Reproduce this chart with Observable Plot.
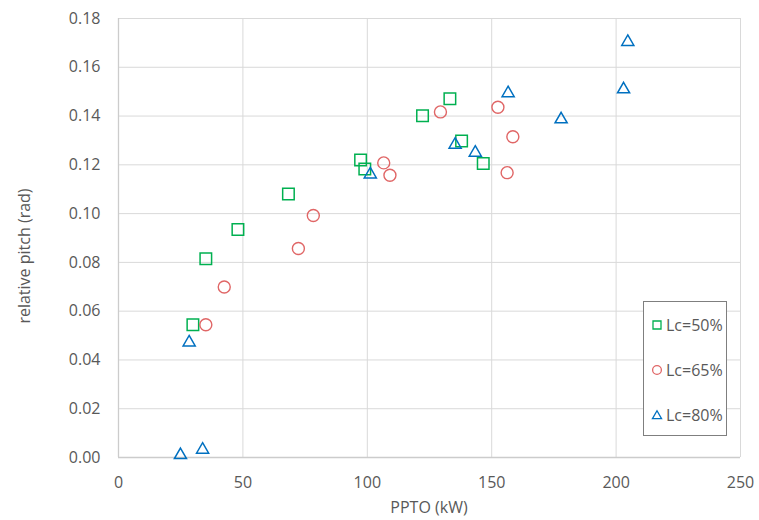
<!DOCTYPE html>
<html>
<head>
<meta charset="utf-8">
<script src="https://cdn.jsdelivr.net/npm/d3@7"></script>
<script src="https://cdn.jsdelivr.net/npm/@observablehq/plot@0.6"></script>
<style>
  html, body { margin: 0; padding: 0; background: #fff; }
  #wrap { position: relative; width: 759px; height: 520px; font-family: "Open Sans", sans-serif; }
  #wrap svg { display: block; }
  .lab { position: absolute; color: #595959; font-size: 16px; white-space: nowrap; line-height: 1; }
  #legend { position: absolute; left: 643px; top: 301px; width: 84px; height: 135px; border: 1px solid #7f7f7f; background: #fff; box-sizing: border-box; }
  .item { position: absolute; left: 7px; height: 20px; display: flex; align-items: center; color: #595959; font-size: 16px; }
  .item svg { margin-right: 3px; }
</style>
</head>
<body>
<div id="wrap"></div>
<script>
// Data
const series = ["Lc=50%", "Lc=65%", "Lc=80%"];
const colors = ["#00b050", "#e06666", "#0070c0"];
const symbols = ["square", "circle", "triangle"];

const ppto50  = [29.9, 35.1, 48.0, 68.3, 97.3, 99.0, 122.2, 133.2, 137.9, 146.6];
const pitch50 = [0.0544, 0.0815, 0.0935, 0.1080, 0.1220, 0.1183, 0.1401, 0.1471, 0.1298, 0.1205];

const ppto65  = [35.1, 42.5, 72.3, 78.3, 106.6, 109.1, 129.4, 152.5, 158.5, 156.2];
const pitch65 = [0.0544, 0.0699, 0.0857, 0.0992, 0.1208, 0.1157, 0.1417, 0.1436, 0.1315, 0.1168];

const ppto80  = [24.9, 33.8, 28.4, 101.2, 135.3, 143.4, 156.6, 177.9, 203.0, 204.7];
const pitch80 = [0.0016, 0.0038, 0.0478, 0.1167, 0.1289, 0.1256, 0.1500, 0.1393, 0.1516, 0.1710];

const xTicks = [0, 50, 100, 150, 200, 250];
const yTicks = [0, 0.02, 0.04, 0.06, 0.08, 0.10, 0.12, 0.14, 0.16, 0.18];

const toRows = (xs, ys, s) => xs.map((x, i) => ({x, y: ys[i], s}));
const d50 = toRows(ppto50, pitch50, series[0]);
const d65 = toRows(ppto65, pitch65, series[1]);
const d80 = toRows(ppto80, pitch80, series[2]);

const chart = Plot.plot({
  width: 759,
  height: 520,
  marginLeft: 118,
  marginRight: 19,
  marginTop: 18,
  marginBottom: 63,
  style: { fontFamily: "Open Sans, sans-serif", fontSize: "16px", color: "#595959", background: "#fff" },
  x: { domain: [0, 250], ticks: xTicks, tickSize: 0, tickPadding: 19, label: null },
  y: { domain: [0, 0.18], ticks: yTicks, tickSize: 0, tickPadding: 18, tickFormat: d => d.toFixed(2), label: null },
  marks: [
    Plot.ruleX(xTicks, { stroke: "#d9d9d9", strokeWidth: 1 }),
    Plot.ruleY(yTicks, { stroke: "#d9d9d9", strokeWidth: 1 }),
    Plot.ruleX([0], { stroke: "#cccccc", strokeWidth: 1.3 }),
    Plot.ruleY([0], { stroke: "#cccccc", strokeWidth: 1.3 }),
    Plot.dot(d50, { x: "x", y: "y", symbol: "square", r: 6.5, stroke: colors[0], fill: "none", strokeWidth: 1.5 }),
    Plot.dot(d65, { x: "x", y: "y", symbol: "circle", r: 6, stroke: colors[1], fill: "none", strokeWidth: 1.4 }),
    Plot.dot(d80, { x: "x", y: "y", symbol: "triangle", r: 4.5, stroke: colors[2], fill: "none", strokeWidth: 1.5, dy: 1.5 })
  ]
});

const wrap = document.getElementById("wrap");
wrap.appendChild(chart);

// axis titles
const xl = document.createElement("div");
xl.className = "lab";
xl.textContent = "PPTO (kW)";
xl.style.left = "429px"; xl.style.top = "499px"; xl.style.transform = "translateX(-50%)";
wrap.appendChild(xl);

const yl = document.createElement("div");
yl.className = "lab";
yl.textContent = "relative pitch (rad)";
yl.style.left = "24px"; yl.style.top = "256px";
yl.style.transform = "translate(-50%, -50%) rotate(-90deg)";
wrap.appendChild(yl);

// legend
const leg = document.createElement("div");
leg.id = "legend";
const rowsTop = [13, 58, 103];
series.forEach((name, i) => {
  const it = document.createElement("div");
  it.className = "item";
  it.style.top = rowsTop[i] + "px";
  const ns = "http://www.w3.org/2000/svg";
  const sv = document.createElementNS(ns, "svg");
  sv.setAttribute("width", 12); sv.setAttribute("height", 12);
  const p = document.createElementNS(ns, "path");
  const symType = {square: d3.symbolSquare, circle: d3.symbolCircle, triangle: d3.symbolTriangle}[symbols[i]];
  const size = {square: 64, circle: 60, triangle: 36}[symbols[i]];
  p.setAttribute("d", d3.symbol(symType, size)());
  p.setAttribute("transform", symbols[i] === "triangle" ? "translate(6,7)" : "translate(6,6)");
  p.setAttribute("fill", "none");
  p.setAttribute("stroke", colors[i]);
  p.setAttribute("stroke-width", 1.3);
  sv.appendChild(p);
  it.appendChild(sv);
  const t = document.createElement("span");
  t.textContent = name;
  it.appendChild(t);
  leg.appendChild(it);
});
wrap.appendChild(leg);
</script>
</body>
</html>
